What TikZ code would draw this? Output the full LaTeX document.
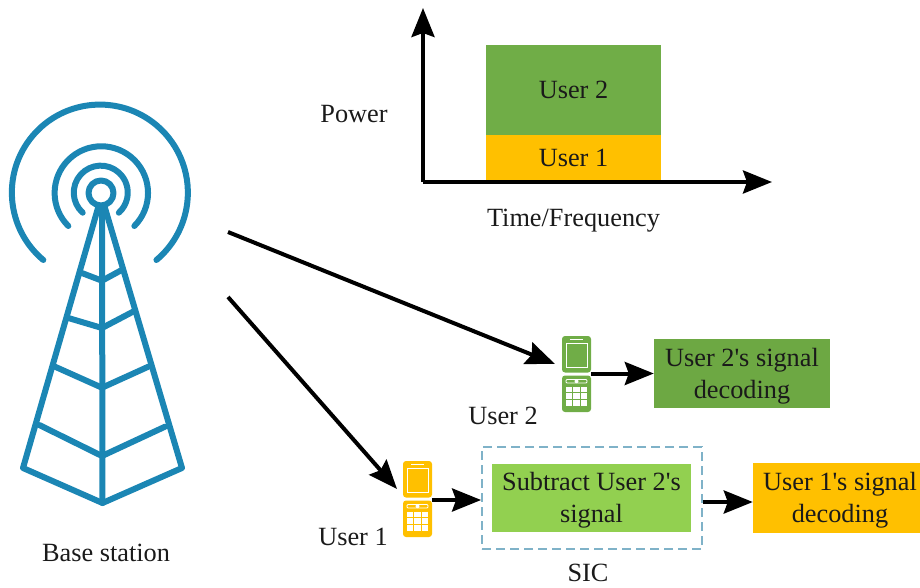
\documentclass[tikz,border=0pt]{standalone}
\usepackage{fontspec}
\newfontfamily\plainserif{Liberation Serif}
\usetikzlibrary{arrows.meta}
\definecolor{towerblue}{HTML}{1B86B4}
\definecolor{gdark}{HTML}{70AD47}
\definecolor{gbox}{HTML}{6DA843}
\definecolor{olive}{HTML}{92D050}
\definecolor{amber}{HTML}{FFC000}
\definecolor{dashblue}{HTML}{7FB2C8}
\definecolor{txt}{HTML}{1A1A1A}
\tikzset{
  x=1pt,y=-1pt,
  lbl/.style={font=\plainserif\fontsize{26.3}{31.5}\selectfont,text=txt,inner sep=0pt,align=center},
  tw/.style={draw=towerblue,line width=6pt,line cap=round,line join=round},
  conn/.style={draw=black,line width=4pt,-{Stealth[length=29pt,width=23pt,inset=4pt]}},
  phoneslot/.style={anchor=north west,inner sep=0pt,minimum width=29pt,minimum height=76pt},
  pics/phone/.style={code={
    \fill[#1,rounded corners=3pt] (0,0) rectangle (29,36.5);
    \fill[#1,rounded corners=3pt] (0,39.5) rectangle (29,76);
    \draw[white,line width=0.9pt] (4,7) rectangle (25,31);
    \draw[white,line width=0.9pt] (8,3.5) -- (21,3.5);
    \draw[white,line width=0.9pt,rounded corners=1pt] (4,43.5) rectangle (25,47);
    \fill[white] (14.5,45.2) circle (2pt);
    \foreach \xa in {4,11.4,18.8} \foreach \ya in {50.5,57.2,63.9}
      \fill[white] (\xa,\ya) rectangle +(6.2,5.6);
  }}
}
\begin{document}
\begin{tikzpicture}
\useasboundingbox (0,0) rectangle (920,588);
% tower
\draw[tw] (101,193) circle (12.5);
\draw[tw] (82.7,212.7) arc[start angle=132,end angle=408,radius=27];
\draw[tw] (68.3,226) arc[start angle=135,end angle=405,radius=46.7];
\draw[tw] (43.3,260) arc[start angle=130,end angle=410,radius=88];
\draw[tw] (98,208) -- (23,468) -- (102.5,503) -- (182,468) -- (105,208);
\draw[tw] (102,208) -- (102.5,503);
\draw[tw] (81,272.7) -- (102,280.7) -- (121.7,270);
\draw[tw] (68.3,318) -- (102,328) -- (133,311.7);
\draw[tw] (55,366.7) -- (102,387.7) -- (148.3,366.7);
\draw[tw] (39.3,425) -- (102,456) -- (165,426.7);
\node[lbl] (bs) at (106,553) {Base station};
% chart
\node[fill=gdark,minimum width=175pt,minimum height=91pt,inner sep=0pt] (u2bar) at (573.5,90.5) {};
\node[lbl] (u2t) at (573.5,90) {User 2};
\node[fill=amber,minimum width=175pt,minimum height=45pt,inner sep=0pt] (u1bar) at (573.5,158) {};
\node[lbl] (u1t) at (573.5,158) {User 1};
\coordinate (org) at (423,182);
\coordinate (ytip) at (423,8);
\coordinate (xtip) at (772,182);
\draw[conn] (org) -- (ytip);
\draw[conn] (org) -- (xtip);
\node[lbl] (pw) at (354,114) {Power};
\node[lbl] (tf) at (573.5,221) {Time/Frequency};
% phones
\node[phoneslot] (ph2) at (562,336) {};
\pic at (562,336) {phone=gdark};
\node[phoneslot] (ph1) at (403,461) {};
\pic at (403,461) {phone=amber};
\node[lbl] (lu2) at (503,416) {User 2};
\node[lbl] (lu1) at (353,537) {User 1};
% boxes
\node[fill=gbox,minimum width=176pt,minimum height=69pt,inner sep=0pt] (dec2) at (742,373.5) {};
\node[lbl] (dec2t) at (742,376) {User 2's signal\\decoding};
\node[draw=dashblue,line width=1.8pt,dash pattern=on 9pt off 5pt,minimum width=220pt,minimum height=102pt,inner sep=0pt] (sic) at (592,498) {};
\node[fill=olive,minimum width=199pt,minimum height=68pt,inner sep=0pt] (sub) at (591.5,498) {};
\node[lbl] (subt) at (591.5,500) {Subtract User 2's\\signal};
\node[fill=amber,minimum width=167pt,minimum height=70pt,inner sep=0pt] (dec1) at (836.5,498) {};
\node[lbl] (dec1t) at (840,500) {User 1's signal\\decoding};
\node[lbl] (sict) at (588,573) {SIC};
% connectors
\coordinate (bs2) at (228,232);
\coordinate (bs1) at (228,297);
\coordinate (tip2) at (555,364);
\coordinate (tip1) at (397,489);
\coordinate (rowa) at (0,500);
\coordinate (rowb) at (0,502);
\draw[conn] (bs2) -- (tip2);
\draw[conn] (bs1) -- (tip1);
\draw[conn] (ph2.east |- dec2) -- (dec2.west);
\draw[conn] (ph1.east |- rowa) -- (sic.west |- rowa);
\draw[conn] (sic.east |- rowb) -- (dec1.west |- rowb);
\end{tikzpicture}
\end{document}
